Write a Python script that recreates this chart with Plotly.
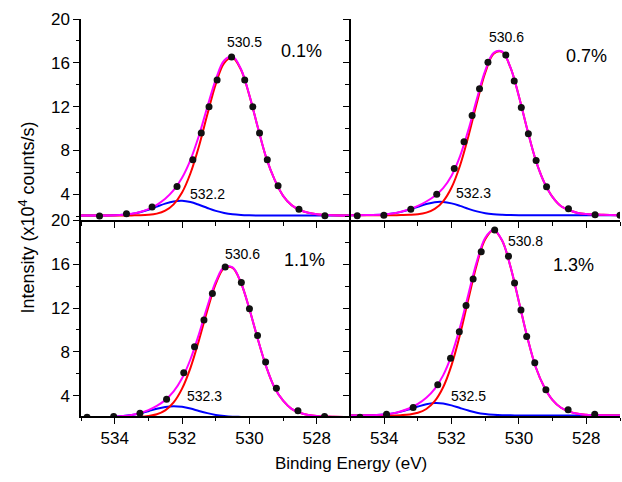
import plotly.graph_objects as go

# ---------------- data ----------------
energy = [535, 534.5, 534, 533.75, 533.5, 533.25, 533, 532.75, 532.5, 532.25, 532,
          531.75, 531.5, 531.25, 531, 530.75, 530.5, 530.25, 530, 529.75, 529.5,
          529.25, 529, 528.75, 528.5, 528.25, 528, 527.5, 527]

# panel 0.1 %
dots_x_01 = [534.45, 533.65, 532.89, 532.15, 531.68, 531.43, 531.20, 530.96, 530.53,
             530.14, 529.90, 529.70, 529.47, 529.15, 528.53, 527.76]
dots_y_01 = [2.00, 2.20, 2.82, 4.70, 7.14, 9.58, 11.98, 14.42, 16.53,
             14.42, 11.98, 9.58, 7.14, 4.76, 2.63, 2.02]
main_01 = [2.05, 2.05, 2.05, 2.05, 2.06, 2.07, 2.11, 2.22, 2.49, 3.07, 4.15, 5.91, 8.36,
           11.27, 14.05, 15.98, 16.47, 15.36, 13.00, 10.08, 7.31, 5.30, 3.85, 3.00,
           2.55, 2.30, 2.17, 2.08, 2.05]
minor_01 = [2.05, 2.05, 2.08, 2.12, 2.20, 2.35, 2.57, 2.86, 3.14, 3.34, 3.40, 3.28, 3.03,
            2.74, 2.47, 2.28, 2.16, 2.10, 2.07, 2.05, 2.05, 2.05, 2.05, 2.05, 2.05,
            2.05, 2.05, 2.05, 2.05]
sum_01 = [2.05, 2.05, 2.08, 2.12, 2.21, 2.37, 2.63, 3.03, 3.58, 4.36, 5.50, 7.14, 9.34,
          11.96, 14.47, 16.21, 16.58, 15.41, 13.02, 10.08, 7.31, 5.30, 3.85, 3.00,
          2.55, 2.30, 2.17, 2.08, 2.05]

# panel 0.7 %
dots_x_07 = [534.80, 534.01, 533.21, 532.44, 531.92, 531.63, 531.39, 531.17, 530.92,
             530.39, 530.14, 529.93, 529.72, 529.49, 529.18, 528.53, 527.74, 527.00]
dots_y_07 = [2.02, 2.08, 2.63, 4.00, 6.35, 8.78, 11.19, 13.63, 16.04,
             16.71, 14.33, 11.92, 9.52, 7.08, 4.67, 2.66, 2.11, 2.08]
main_07 = [2.08, 2.08, 2.08, 2.08, 2.09, 2.11, 2.16, 2.31, 2.65, 3.35, 4.61, 6.60, 9.29,
           12.33, 15.10, 16.82, 16.99, 15.55, 12.93, 9.88, 7.09, 5.08, 3.73, 2.90,
           2.53, 2.28, 2.18, 2.11, 2.08]
minor_07 = [2.08, 2.09, 2.15, 2.23, 2.38, 2.59, 2.85, 3.10, 3.27, 3.29, 3.16, 2.93, 2.66,
            2.43, 2.26, 2.17, 2.12, 2.09, 2.08, 2.08, 2.08, 2.08, 2.08, 2.08, 2.08,
            2.08, 2.08, 2.08, 2.08]
sum_07 = [2.08, 2.09, 2.15, 2.23, 2.39, 2.62, 2.93, 3.33, 3.84, 4.56, 5.69, 7.45, 9.87,
          12.68, 15.28, 16.91, 17.03, 15.56, 12.93, 9.88, 7.09, 5.08, 3.73, 2.90,
          2.53, 2.28, 2.18, 2.11, 2.08]

# panel 1.1 %
dots_x_11 = [534.82, 534.03, 533.25, 532.46, 531.95, 531.63, 531.35, 531.10, 530.72,
             530.24, 530.00, 529.76, 529.52, 529.20, 528.56, 527.77]
dots_y_11 = [2.04, 2.10, 2.40, 3.69, 6.09, 8.48, 10.91, 13.33, 15.75,
             14.34, 11.95, 9.49, 7.07, 4.68, 2.62, 2.10]
main_11 = [2.05, 2.05, 2.05, 2.05, 2.06, 2.08, 2.15, 2.31, 2.67, 3.39, 4.65, 6.55, 9.05,
           11.79, 14.21, 15.65, 15.68, 14.29, 11.90, 9.16, 6.64, 4.71, 3.55, 2.80,
           2.45, 2.25, 2.15, 2.08, 2.05]
minor_11 = [2.05, 2.06, 2.09, 2.14, 2.24, 2.39, 2.59, 2.81, 2.98, 3.05, 2.99, 2.83, 2.61,
            2.41, 2.25, 2.15, 2.09, 2.07, 2.05, 2.05, 2.05, 2.05, 2.05, 2.05, 2.05,
            2.05, 2.05, 2.05, 2.05]
sum_11 = [2.05, 2.06, 2.09, 2.14, 2.25, 2.42, 2.69, 3.07, 3.60, 4.39, 5.59, 7.33, 9.61,
          12.15, 14.41, 15.75, 15.72, 14.31, 11.90, 9.16, 6.64, 4.71, 3.55, 2.80,
          2.45, 2.25, 2.15, 2.08, 2.05]

# panel 1.3 %
dots_x_13 = [534.72, 533.93, 533.14, 532.41, 532.03, 531.77, 531.57, 531.36, 531.12,
             530.72, 530.31, 530.13, 529.94, 529.77, 529.53, 529.20, 528.54, 527.75]
dots_y_13 = [2.04, 2.31, 2.93, 5.01, 7.41, 9.83, 12.23, 14.65, 17.14,
             19.13, 16.74, 14.28, 11.83, 9.40, 7.01, 4.55, 2.71, 2.31]
main_13 = [2.20, 2.20, 2.20, 2.20, 2.23, 2.29, 2.44, 2.79, 3.50, 4.77, 6.79, 9.56, 12.82,
           15.99, 18.29, 19.10, 18.16, 15.76, 12.56, 9.32, 6.60, 4.80, 3.60, 2.90,
           2.55, 2.35, 2.27, 2.22, 2.20]
minor_13 = [2.20, 2.21, 2.29, 2.39, 2.55, 2.77, 3.01, 3.22, 3.33, 3.29, 3.12, 2.88, 2.65,
            2.45, 2.33, 2.26, 2.22, 2.21, 2.20, 2.20, 2.20, 2.20, 2.20, 2.20, 2.20,
            2.20, 2.20, 2.20, 2.20]
sum_13 = [2.20, 2.21, 2.29, 2.39, 2.58, 2.86, 3.25, 3.81, 4.63, 5.86, 7.71, 10.24, 13.27,
          16.24, 18.42, 19.16, 18.18, 15.77, 12.56, 9.32, 6.60, 4.80, 3.60, 2.90,
          2.55, 2.35, 2.27, 2.22, 2.20]

panel_labels = ["0.1%", "0.7%", "1.1%", "1.3%"]
main_peak_labels = ["530.5", "530.6", "530.6", "530.8"]
minor_peak_labels = ["532.2", "532.3", "532.3", "532.5"]
# label anchor positions (energy, intensity)
main_label_pos = [(530.16, 17.9), (530.36, 18.32), (530.22, 16.92), (529.80, 18.15)]
pct_label_pos = [(528.45, 17.04), (528.0, 16.58), (528.38, 16.35), (528.38, 15.95)]
minor_label_pos = [(531.25, 4.0), (531.34, 4.09), (531.32, 3.98), (531.50, 3.94)]

panels = [
    (dots_x_01, dots_y_01, main_01, minor_01, sum_01),
    (dots_x_07, dots_y_07, main_07, minor_07, sum_07),
    (dots_x_11, dots_y_11, main_11, minor_11, sum_11),
    (dots_x_13, dots_y_13, main_13, minor_13, sum_13),
]

# ---------------- figure ----------------
FONT = "Arial, Liberation Sans, sans-serif"
x_range = [535, 527]
y_ranges = [[1.6, 20], [1.6, 20], [2.15, 20], [2.15, 20]]
x_domains = [[0, 0.5], [0.5, 1], [0, 0.5], [0.5, 1]]
split = 0.4926
y_domains = [[split, 1], [split, 1], [0, split], [0, split]]

fig = go.Figure()
for i, (dx, dy, mn, mi, sm) in enumerate(panels):
    xa = "x" if i == 0 else f"x{i + 1}"
    ya = "y" if i == 0 else f"y{i + 1}"
    fig.add_trace(go.Scatter(x=energy, y=mi, mode="lines", line=dict(color="#0000ff", width=2, shape="spline"),
                             xaxis=xa, yaxis=ya, showlegend=False, hoverinfo="skip"))
    fig.add_trace(go.Scatter(x=energy, y=mn, mode="lines", line=dict(color="#ff0000", width=2, shape="spline"),
                             xaxis=xa, yaxis=ya, showlegend=False, hoverinfo="skip"))
    fig.add_trace(go.Scatter(x=energy, y=sm, mode="lines", line=dict(color="#ff00ff", width=2, shape="spline"),
                             xaxis=xa, yaxis=ya, showlegend=False, hoverinfo="skip"))
    fig.add_trace(go.Scatter(x=dx, y=dy, mode="markers", marker=dict(color="#111111", size=7),
                             xaxis=xa, yaxis=ya, showlegend=False))

    mx, my = main_label_pos[i]
    px_, py_ = pct_label_pos[i]
    nx, ny = minor_label_pos[i]
    for (tx, ty, txt, sz) in [(mx, my, main_peak_labels[i], 14),
                              (px_, py_, panel_labels[i], 18),
                              (nx, ny, minor_peak_labels[i], 14)]:
        fig.add_annotation(x=tx, y=ty, xref=xa, yref=ya, text=txt, showarrow=False,
                           font=dict(family=FONT, size=sz, color="black"),
                           xanchor="center", yanchor="middle")

axis_common = dict(showgrid=False, zeroline=False, showline=True, linecolor="black",
                   linewidth=1.5, tickcolor="black", tickwidth=1.2, ticklen=6,
                   tickfont=dict(family=FONT, size=17, color="black"))

layout = {}
for i in range(4):
    n = "" if i == 0 else str(i + 1)
    bottom_row = i >= 2
    left_col = i in (0, 2)
    layout[f"xaxis{n}"] = dict(axis_common, domain=x_domains[i], range=x_range,
                               anchor=f"y{n}", ticks="outside", tick0=528, dtick=2,
                               showticklabels=bottom_row,
                               minor=dict(ticks="outside", ticklen=3.5, tickwidth=1.2,
                                          tickcolor="black", tick0=527, dtick=1))
    layout[f"yaxis{n}"] = dict(axis_common, domain=y_domains[i], range=y_ranges[i],
                               anchor=f"x{n}", ticks="outside", tick0=0, dtick=4,
                               showticklabels=left_col,
                               minor=dict(ticks="outside", ticklen=3.5, tickwidth=1.2,
                                          tickcolor="black", tick0=0, dtick=2))
    # mirrored frame with inward ticks
    layout[f"xaxis{i + 5}"] = dict(axis_common, range=x_range, overlaying=f"x{n}",
                                   anchor=f"y{n}", side="top", ticks="inside",
                                   tick0=528, dtick=2, showticklabels=False,
                                   minor=dict(ticks="inside", ticklen=3.5, tickwidth=1.2,
                                              tickcolor="black", tick0=527, dtick=1))
    layout[f"yaxis{i + 5}"] = dict(axis_common, range=y_ranges[i], overlaying=f"y{n}",
                                   anchor=f"x{n}", side="right", ticks="inside",
                                   tick0=0, dtick=4, showticklabels=False,
                                   minor=dict(ticks="inside", ticklen=3.5, tickwidth=1.2,
                                              tickcolor="black", tick0=0, dtick=2))

fig.update_layout(**layout)
fig.update_layout(
    width=622, height=482,
    margin=dict(l=81, r=2, t=19, b=66),
    paper_bgcolor="white", plot_bgcolor="white",
    font=dict(family=FONT, color="black"),
    showlegend=False,
)
fig.add_annotation(x=0.5, y=-0.12, xref="paper", yref="paper", showarrow=False,
                   text="Binding Energy (eV)", font=dict(family=FONT, size=17, color="black"),
                   xanchor="center", yanchor="middle")
fig.add_annotation(x=-0.1, y=0.5, xref="paper", yref="paper", showarrow=False, textangle=-90,
                   text="Intensity (x10<sup>4</sup> counts/s)",
                   font=dict(family=FONT, size=18, color="black"),
                   xanchor="center", yanchor="middle")

fig.write_html("out.html")
